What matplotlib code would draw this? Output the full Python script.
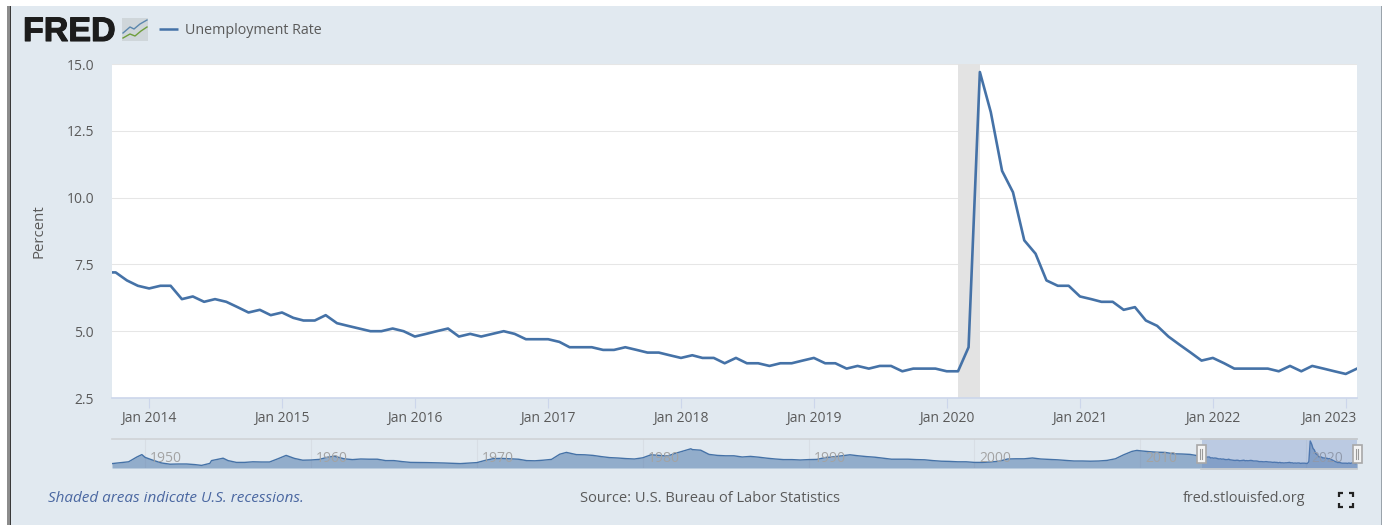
import datetime as dt
import matplotlib
matplotlib.use("Agg")
import matplotlib.pyplot as plt
import matplotlib.patheffects as pe
from matplotlib.patches import Rectangle
from matplotlib.transforms import ScaledTranslation

W, H = 1384, 525
plt.rcParams['font.family'] = ['Open Sans', 'DejaVu Sans']

# monthly rate, Sep 2013 .. Feb 2023
rate = [7.2, 7.2, 6.9, 6.7,
        6.6, 6.7, 6.7, 6.2, 6.3, 6.1, 6.2, 6.1, 5.9, 5.7, 5.8, 5.6,
        5.7, 5.5, 5.4, 5.4, 5.6, 5.3, 5.2, 5.1, 5.0, 5.0, 5.1, 5.0,
        4.8, 4.9, 5.0, 5.1, 4.8, 4.9, 4.8, 4.9, 5.0, 4.9, 4.7, 4.7,
        4.7, 4.6, 4.4, 4.4, 4.4, 4.3, 4.3, 4.4, 4.3, 4.2, 4.2, 4.1,
        4.0, 4.1, 4.0, 4.0, 3.8, 4.0, 3.8, 3.8, 3.7, 3.8, 3.8, 3.9,
        4.0, 3.8, 3.8, 3.6, 3.7, 3.6, 3.7, 3.7, 3.5, 3.6, 3.6, 3.6,
        3.5, 3.5, 4.4, 14.7, 13.2, 11.0, 10.2, 8.4, 7.9, 6.9, 6.7, 6.7,
        6.3, 6.2, 6.1, 6.1, 5.8, 5.9, 5.4, 5.2, 4.8, 4.5, 4.2, 3.9,
        4.0, 3.8, 3.6, 3.6, 3.6, 3.6, 3.5, 3.7, 3.5, 3.7, 3.6, 3.5,
        3.4, 3.6]
months = [dt.date(2013 + (8 + i) // 12, (8 + i) % 12 + 1, 1) for i in range(len(rate))]

# long history for the navigator (year, rate)
hist_years = [1948.0, 1949.0, 1949.5, 1949.8, 1950.0, 1950.5, 1951.0, 1951.5, 1952.0, 1952.5,
              1953.0, 1953.4, 1953.9, 1954.0, 1954.7, 1955.0, 1955.5, 1956.0, 1956.5, 1957.0,
              1957.5, 1958.0, 1958.5, 1959.0, 1959.5, 1960.0, 1960.5, 1961.0, 1961.4, 1962.0,
              1962.5, 1963.0, 1963.5, 1964.0, 1964.5, 1965.0, 1965.5, 1966.0, 1967.0, 1968.0,
              1969.0, 1970.0, 1970.5, 1971.0, 1971.5, 1972.0, 1972.5, 1973.0, 1973.5, 1974.0,
              1974.5, 1975.0, 1975.4, 1976.0, 1976.5, 1977.0, 1977.5, 1978.0, 1978.5, 1979.0,
              1979.5, 1980.0, 1980.5, 1981.0, 1981.5, 1982.0, 1982.5, 1982.9, 1983.0, 1983.5,
              1984.0, 1984.5, 1985.0, 1985.5, 1986.0, 1986.5, 1987.0, 1987.5, 1988.0, 1988.5,
              1989.0, 1989.5, 1990.0, 1990.5, 1991.0, 1991.5, 1992.0, 1992.5, 1993.0, 1993.5,
              1994.0, 1994.5, 1995.0, 1995.5, 1996.0, 1996.5, 1997.0, 1997.5, 1998.0, 1998.5,
              1999.0, 1999.5, 2000.0, 2000.5, 2001.0, 2001.5, 2002.0, 2002.5, 2003.0, 2003.5,
              2004.0, 2004.5, 2005.0, 2005.5, 2006.0, 2006.5, 2007.0, 2007.5, 2008.0, 2008.5,
              2009.0, 2009.5, 2009.8, 2010.0, 2010.5, 2011.0, 2011.5, 2012.0, 2012.5, 2013.0,
              2013.5]
hist_rate = [3.4, 4.3, 6.7, 7.9, 6.5, 5.0, 3.7, 3.1, 3.2, 3.2,
             2.9, 2.5, 3.5, 4.9, 6.1, 4.9, 4.0, 4.0, 4.3, 4.2,
             4.2, 5.8, 7.5, 6.0, 5.1, 5.2, 5.5, 6.6, 7.1, 5.8,
             5.4, 5.7, 5.6, 5.6, 4.9, 4.9, 4.4, 4.0, 3.9, 3.7,
             3.4, 3.9, 5.0, 5.9, 6.0, 5.8, 5.6, 4.9, 4.8, 5.1,
             5.5, 8.1, 9.0, 7.9, 7.8, 7.5, 6.9, 6.4, 6.2, 5.9,
             5.7, 6.3, 7.8, 7.5, 7.2, 8.6, 9.8, 10.8, 10.4, 10.1,
             8.0, 7.5, 7.3, 7.3, 6.7, 7.0, 6.6, 6.1, 5.7, 5.4,
             5.4, 5.2, 5.4, 5.5, 6.4, 6.8, 7.3, 7.8, 7.3, 6.9,
             6.6, 6.1, 5.6, 5.6, 5.6, 5.4, 5.3, 4.9, 4.6, 4.5,
             4.3, 4.3, 4.0, 4.0, 4.2, 4.6, 5.7, 5.8, 5.8, 6.2,
             5.7, 5.5, 5.3, 5.0, 4.7, 4.7, 4.6, 4.7, 5.0, 5.8,
             7.8, 9.5, 10.0, 9.8, 9.4, 9.1, 9.0, 8.3, 8.2, 8.0,
             7.3]

y_ticks = [2.5, 5.0, 7.5, 10.0, 12.5, 15.0]
x_tick_years = [2014, 2015, 2016, 2017, 2018, 2019, 2020, 2021, 2022, 2023]
nav_tick_years = [1950, 1960, 1970, 1980, 1990, 2000, 2010, 2020]
recession = (dt.date(2020, 2, 1), dt.date(2020, 4, 1))

BG = '#e1e9f0'
LINE = '#4572a7'
TXT = '#5a5a5a'


def box(x0, y0, x1, y1):
    return [x0 / W, 1 - y1 / H, (x1 - x0) / W, (y1 - y0) / H]


fig = plt.figure(figsize=(W / 100, H / 100), dpi=100, facecolor='white')

# page layer, in pixel coordinates
page = fig.add_axes([0, 0, 1, 1])
page.set_xlim(0, W)
page.set_ylim(H, 0)
page.axis('off')
page.add_patch(Rectangle((10, 6), 1371, 519, fc=BG, ec='none'))
page.add_patch(Rectangle((7, 6), 2.5, 519, fc='#8c8c8c', ec='none'))
page.add_patch(Rectangle((9.5, 6), 1.5, 519, fc='#3a3a3a', ec='none'))
page.add_patch(Rectangle((1381, 6), 1, 519, fc='#9aa3ab', ec='none'))

# logo
logo = page.text(23, 41, 'FRED', fontsize=24.5, fontweight='bold', color='#1c1c1c',
                 va='baseline', ha='left', family=['Liberation Sans', 'DejaVu Sans'])
logo.set_path_effects([pe.withStroke(linewidth=0.8, foreground='#1c1c1c')])
page.add_patch(Rectangle((122, 18), 26, 23, fc='#cfd6da', ec='none'))
page.plot([123, 130, 134, 140, 147], [33, 27, 29, 24, 20], color='#5b87ad', lw=1)
page.plot([123, 130, 135, 141, 147], [38, 34, 36, 31, 27], color='#6f9e3c', lw=1)

# legend
page.plot([159, 178], [29, 29], color=LINE, lw=1.8, solid_capstyle='butt')
page.text(185, 30.5, 'Unemployment Rate', fontsize=10.3, color=TXT, va='center', ha='left')

page.text(39, 231, 'Percent', fontsize=10.8, color=TXT, rotation=90, va='center', ha='center')

# footer
page.text(48, 499, 'Shaded areas indicate U.S. recessions.', fontsize=11, style='italic',
          color='#4a67a1', va='center', ha='left')
page.text(709.5, 499, 'Source: U.S. Bureau of Labor Statistics', fontsize=10.5, color=TXT,
          va='center', ha='center')
page.text(1305, 499, 'fred.stlouisfed.org', fontsize=10.4, color=TXT, va='center', ha='right')

# fullscreen icon
for cx, cy, sx, sy in [(1339, 493, 1, 1), (1353, 493, -1, 1), (1339, 507, 1, -1), (1353, 507, -1, -1)]:
    page.plot([cx + 4 * sx, cx, cx], [cy, cy, cy + 4 * sy], color='#222222', lw=1.6,
              solid_capstyle='butt', solid_joinstyle='miter')

# main chart
ax = fig.add_axes(box(112, 64, 1357, 398), facecolor='white')
ax.set_xlim(dt.date(2013, 9, 21), dt.date(2023, 2, 1))
ax.set_ylim(2.5, 15)
ax.axvspan(recession[0], recession[1], color='#e3e3e3', lw=0, zorder=1)
ax.plot(months, rate, color=LINE, lw=1.9, zorder=3)
ax.set_yticks(y_ticks)
ax.set_yticklabels(['%.1f' % v for v in y_ticks], fontsize=10, color=TXT)
ax.set_xticks([dt.date(y, 1, 1) for y in x_tick_years])
ax.set_xticklabels(['Jan %d' % y for y in x_tick_years], fontsize=10, color=TXT)
ax.tick_params(axis='y', length=0, pad=13)
ax.tick_params(axis='x', length=7.2, width=0.8, color='#ccd6eb', pad=2.5)
ax.grid(axis='y', color='#e6e6e6', lw=0.75, zorder=0)
ax.set_axisbelow(True)
for side in ['top', 'left', 'right']:
    ax.spines[side].set_visible(False)
ax.spines['bottom'].set_color('#ccd6eb')
ax.spines['bottom'].set_linewidth(1.2)
# last label is pushed left to stay inside the plot
last = ax.get_xticklabels()[-1]
last.set_ha('right')
last.set_transform(last.get_transform() + ScaledTranslation(10.5 / 100, 0, fig.dpi_scale_trans))

# navigator
nav = fig.add_axes(box(112, 439, 1357, 468), facecolor='none')
nav_x = hist_years + [m.year + (m.month - 1) / 12 for m in months[2:]]
nav_y = hist_rate + rate[2:]
nav.set_xlim(1948, 2023.07)
nav.set_ylim(1.2, 15.7)
for y in nav_tick_years:
    nav.axvline(y, color='#d8dee5', lw=0.8, zorder=0)
nav.fill_between(nav_x, nav_y, 1.2, color=LINE, alpha=0.5, lw=0, zorder=2)
nav.plot(nav_x, nav_y, color=LINE, lw=1, zorder=3)
for y in nav_tick_years:
    nav.annotate(str(y), (y, 0), xycoords=('data', 'axes fraction'), xytext=(3.5, 6.5),
                 textcoords='offset points', fontsize=10, color='#a3a3a3', va='center',
                 ha='left', zorder=4)
nav.axvspan(2013.72, 2023.07, color='#6685c2', alpha=0.3, lw=0, zorder=4)
nav.set_xticks([])
nav.set_yticks([])
for side in nav.spines:
    nav.spines[side].set_visible(False)

# navigator outline and handles on top
top = fig.add_axes([0, 0, 1, 1], facecolor='none')
top.set_xlim(0, W)
top.set_ylim(H, 0)
top.axis('off')
top.plot([112, 1357], [439, 439], color='#cfd3d6', lw=1.2)
top.plot([1201, 1357], [439, 439], color='#c4c8cc', lw=1.2)
top.plot([1201, 1357], [468.5, 468.5], color='#c4c8cc', lw=1.2)
for hx in [1201, 1357]:
    top.add_patch(Rectangle((hx - 4.5, 445), 9, 18, fc='#f4f4f4', ec='#a8a8a8', lw=1.2))
    top.plot([hx - 1.3, hx - 1.3], [449, 459], color='#9a9a9a', lw=0.8)
    top.plot([hx + 1.3, hx + 1.3], [449, 459], color='#9a9a9a', lw=0.8)

fig.savefig('out.png', dpi=100, facecolor='white')
